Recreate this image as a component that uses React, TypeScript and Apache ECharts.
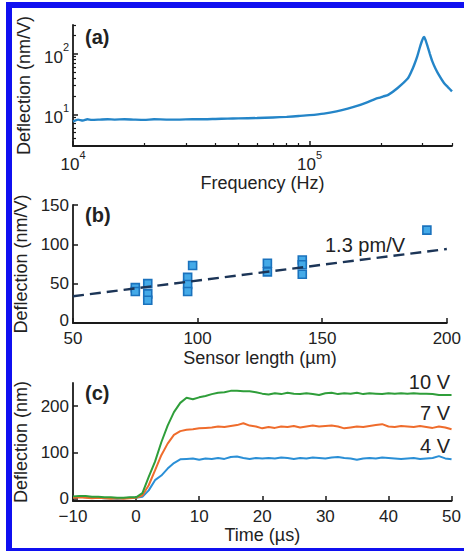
import React, { useEffect, useRef } from "react";
import * as echarts from "echarts";

// ---------- Panel (a): frequency response ----------
const freqHz = [
  10000, 10500, 11000, 11500, 12000, 13000, 14000, 15000, 16500, 18000,
  20000, 22000, 25000, 28000, 32000, 36000, 40000, 45000, 50000, 60000,
  70000, 80000, 90000, 100000, 115000, 130000, 145000, 160000, 175000, 190000,
  200000, 205000, 215000, 235000, 260000, 270000, 277000, 285000, 292000, 298000,
  302000, 305000, 309000, 315000, 322000, 330000, 340000, 353000, 370000, 385000,
  400000,
];
const responseNmPerV = [
  7.6, 8.2, 7.9, 8.3, 8.1, 8.2, 8.3, 8.2, 8.3, 8.2,
  8.1, 8.3, 8.2, 8.2, 8.3, 8.3, 8.4, 8.5, 8.6, 8.7,
  8.9, 9.1, 9.4, 9.7, 10.3, 11.2, 12.4, 13.9, 15.8, 18.0,
  19.1, 19.8, 21.0, 27, 39, 52, 66, 90, 125, 160,
  183, 190, 170, 135, 102, 76, 58, 44, 33, 28,
  24,
];
const freqMajorTicks = [10000, 100000];
const freqMinorTicks = [20000, 30000, 40000, 50000, 60000, 70000, 80000, 90000, 200000, 300000, 400000];
const respMajorTicks = [10, 100];
const respMinorTicks = [4, 5, 6, 7, 8, 9, 20, 30, 40, 50, 60, 70, 80, 90, 200, 300];

// ---------- Panel (b): deflection vs sensor length ----------
const sensorLengthUm = [75, 75, 80, 80, 80, 96, 96, 96, 98, 128, 128, 142, 142, 142, 192];
const sensorDeflection = [45, 40, 50, 37, 29, 58, 49, 40, 73, 76, 65, 80, 74, 62, 118];
const fitLengthUm = [50, 200];
const fitDeflection = [34, 94];
const fitLabel = "1.3 pm/V";

// ---------- Panel (c): step response ----------
const timeUs = [
  -10, -9, -8, -7, -6, -5, -4, -3, -2, -1, 0, 1, 2, 3, 4, 5, 6, 7, 8, 9,
  10, 11, 12, 13, 14, 15, 16, 17, 18, 19, 20, 21, 22, 23, 24, 25, 26, 27, 28, 29,
  30, 31, 32, 33, 34, 35, 36, 37, 38, 39, 40, 41, 42, 43, 44, 45, 46, 47, 48, 49, 50,
];
const step4V = [
  3, 4, 3, 2, 2, 1, 1, 0, 1, 2, 2, 4, 18, 40, 50, 65, 77, 85, 86, 87,
  84, 87, 86, 88, 86, 90, 91, 88, 86, 88, 87, 88, 87, 89, 88, 86, 88, 87, 89, 88,
  87, 89, 90, 88, 87, 84, 87, 88, 87, 89, 88, 87, 86, 87, 88, 86, 87, 88, 92, 87, 85,
];
const step7V = [
  2, 3, 2, 1, 2, 1, 0, 1, 0, 1, 2, 7, 29, 61, 94, 119, 138, 146, 149, 150,
  152, 153, 154, 156, 155, 157, 159, 163, 158, 156, 152, 155, 153, 156, 155, 157, 154, 156, 158, 156,
  157, 158, 156, 152, 154, 156, 155, 157, 159, 161, 156, 155, 157, 156, 155, 157, 155, 153, 156, 154, 150,
];
const step10V = [
  5, 6, 6, 4, 4, 3, 3, 2, 2, 3, 3, 12, 47, 80, 122, 158, 187, 207, 218, 215,
  219, 222, 226, 229, 230, 233, 233, 232, 232, 230, 227, 225, 228, 226, 229, 227, 226, 228, 226, 224,
  228, 229, 226, 228, 227, 229, 226, 228, 227, 226, 228, 227, 228, 227, 228, 227, 227, 226, 224, 224, 224,
];
const stepSeriesNames = ["4 V", "7 V", "10 V"];
const timeDeflTicks = [0, 100, 200];
const panelLabels = ["(a)", "(b)", "(c)"];

const FONT = "Liberation Sans, Arial, sans-serif";
const INK = "#1a1a1a";
const TXT = "#222";

const zip = (a: number[], b: number[]) => a.map((v, i) => [v, b[i]]);

const axisLineStyle = { show: true, onZero: false, lineStyle: { color: INK, width: 1.8 } };
const labelBase = { color: TXT, fontSize: 17, lineHeight: 17, fontFamily: FONT };
const nameStyle = { color: TXT, fontSize: 18, fontFamily: FONT };
const minus = (v: number) => (v < 0 ? "\u2212" + Math.abs(v) : String(v));
const powRich = {
  b: { fontSize: 17, fontFamily: FONT, color: TXT, lineHeight: 24, verticalAlign: "bottom" },
  s: { fontSize: 11, fontFamily: FONT, color: TXT, lineHeight: 13, verticalAlign: "top" },
};
const powFmt = (v: number) => `{b|10}{s|${Math.round(Math.log10(v))}}`;
const liftZeroFmt = (v: number) => (v === 0 ? `{z|0}` : String(v));
const liftZeroRich = {
  z: { fontSize: 17, fontFamily: FONT, color: TXT, lineHeight: 12, padding: [0, 0, 6, 0] },
};
const majorTick = { show: true, inside: true, length: 5, lineStyle: { color: INK, width: 1.5 } };
const minorTickStyle = { show: true, inside: true, length: 3, lineStyle: { color: INK, width: 1.2 } };

export default function App() {
  const ref = useRef<HTMLDivElement>(null);
  useEffect(() => {
    if (!ref.current) return;
    const chart = echarts.init(ref.current, null, { renderer: "svg" });
    const grids = [
      { left: 73, top: 25, width: 379, height: 121 },
      { left: 73, top: 205, width: 379, height: 118 },
      { left: 73, top: 383, width: 379, height: 118 },
    ];
    const option: any = {
      animation: false,
      backgroundColor: "#ffffff",
      grid: grids.map((g) => ({ ...g, containLabel: false })),
      xAxis: [
        {
          gridIndex: 0, type: "log", logBase: 10, min: 10000, max: 400000, position: "bottom",
          axisLine: axisLineStyle,
          axisTick: { ...majorTick, customValues: freqMajorTicks },
          axisLabel: { ...labelBase, lineHeight: undefined, customValues: freqMajorTicks, margin: 3, formatter: powFmt, rich: powRich },
          splitLine: { show: false }, minorTick: { show: false },
          name: "Frequency (Hz)", nameLocation: "middle", nameGap: 28, nameTextStyle: nameStyle,
        },
        {
          gridIndex: 0, type: "log", logBase: 10, min: 10000, max: 400000, position: "bottom", offset: 0,
          axisLine: { show: false },
          axisTick: { ...minorTickStyle, customValues: freqMinorTicks },
          axisLabel: { show: false }, splitLine: { show: false },
        },
        {
          gridIndex: 1, type: "value", min: 50, max: 200, interval: 50, position: "bottom",
          axisLine: axisLineStyle,
          axisTick: majorTick,
          axisLabel: { ...labelBase, margin: 7 },
          splitLine: { show: false },
          name: "Sensor length (\u00b5m)", nameLocation: "middle", nameGap: 26, nameTextStyle: nameStyle,
        },
        {
          gridIndex: 2, type: "value", min: -10, max: 50, interval: 10, position: "bottom",
          axisLine: axisLineStyle,
          axisTick: majorTick,
          axisLabel: { ...labelBase, margin: 7, formatter: minus },
          splitLine: { show: false },
          name: "Time (\u00b5s)", nameLocation: "middle", nameGap: 25, nameTextStyle: nameStyle,
        },
      ],
      yAxis: [
        {
          gridIndex: 0, type: "log", logBase: 10, min: 3, max: 300, position: "left",
          axisLine: axisLineStyle,
          axisTick: { ...majorTick, customValues: respMajorTicks },
          axisLabel: { ...labelBase, lineHeight: undefined, customValues: respMajorTicks, margin: 4, formatter: powFmt, rich: powRich },
          splitLine: { show: false },
          name: "Deflection (nm/V)", nameLocation: "middle", nameGap: 36, nameTextStyle: nameStyle,
        },
        {
          gridIndex: 0, type: "log", logBase: 10, min: 3, max: 300, position: "left", offset: 0,
          axisLine: { show: false },
          axisTick: { ...minorTickStyle, customValues: respMinorTicks },
          axisLabel: { show: false }, splitLine: { show: false },
        },
        {
          gridIndex: 1, type: "value", min: 0, max: 150, interval: 50, position: "left",
          axisLine: axisLineStyle,
          axisTick: majorTick,
          axisLabel: { ...labelBase, lineHeight: 12, margin: 4, formatter: liftZeroFmt, rich: liftZeroRich },
          splitLine: { show: false },
          name: "Deflection (nm/V)", nameLocation: "middle", nameGap: 36, nameTextStyle: nameStyle,
        },
        {
          gridIndex: 2, type: "value", min: -5, max: 250, position: "left",
          axisLine: axisLineStyle,
          axisTick: { ...majorTick, customValues: timeDeflTicks },
          axisLabel: { ...labelBase, customValues: timeDeflTicks, margin: 4 },
          splitLine: { show: false },
          name: "Deflection (nm)", nameLocation: "middle", nameGap: 36, nameTextStyle: nameStyle,
        },
      ],
      series: [
        {
          type: "line", xAxisIndex: 0, yAxisIndex: 0, data: zip(freqHz, responseNmPerV),
          showSymbol: false, lineStyle: { color: "#2485c8", width: 2.4 }, smooth: 0.2,
        },
        {
          type: "line", xAxisIndex: 2, yAxisIndex: 2, data: zip(fitLengthUm, fitDeflection),
          showSymbol: false, lineStyle: { color: "#1c3557", width: 2.4, type: [11, 6] },
        },
        {
          type: "scatter", xAxisIndex: 2, yAxisIndex: 2, data: zip(sensorLengthUm, sensorDeflection),
          symbol: "rect", symbolSize: 8,
          itemStyle: { color: "#44aae8", borderColor: "#1a72bd", borderWidth: 1.6, opacity: 1 },
        },
        {
          name: stepSeriesNames[0], type: "line", xAxisIndex: 3, yAxisIndex: 3, data: zip(timeUs, step4V),
          showSymbol: false, lineStyle: { color: "#2a8fd6", width: 2 },
        },
        {
          name: stepSeriesNames[1], type: "line", xAxisIndex: 3, yAxisIndex: 3, data: zip(timeUs, step7V),
          showSymbol: false, lineStyle: { color: "#ef6c2c", width: 2 },
        },
        {
          name: stepSeriesNames[2], type: "line", xAxisIndex: 3, yAxisIndex: 3, data: zip(timeUs, step10V),
          showSymbol: false, lineStyle: { color: "#2f9e3a", width: 2 },
        },
      ],
      graphic: [
        {
          type: "rect", silent: true, z: 100,
          shape: { x: 9, y: 5, width: 500, height: 546 },
          style: { fill: "none", stroke: "#1010f0", lineWidth: 6 },
        },
        ...panelLabels.map((t, i) => ({
          type: "text", left: 85, top: [27, 205, 383][i], z: 50,
          style: { text: t, fontSize: 20, fontWeight: "bold", fontFamily: FONT, fill: TXT },
        })),
        {
          type: "text", x: 325, y: 245, z: 50,
          style: { text: fitLabel, fontSize: 20, fontFamily: FONT, fill: TXT, verticalAlign: "middle", align: "left" },
        },
        ...[stepSeriesNames[2], stepSeriesNames[1], stepSeriesNames[0]].map((t, i) => ({
          type: "text", x: 450, y: [382, 413, 446][i], z: 50,
          style: { text: t, fontSize: 20, fontFamily: FONT, fill: TXT, verticalAlign: "middle", align: "right" },
        })),
      ],
    };
    chart.setOption(option);
    return () => chart.dispose();
  }, []);
  return (
    <div
      ref={ref}
      style={{ position: "absolute", left: 0, top: 0, width: 464, height: 551, background: "#fff" }}
    />
  );
}
